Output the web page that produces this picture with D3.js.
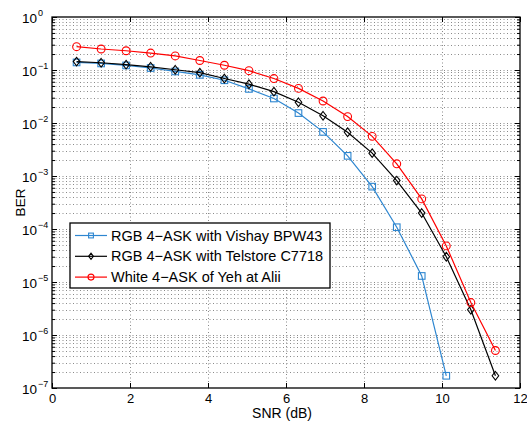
<!DOCTYPE html>
<html>
<head>
<meta charset="utf-8">
<script src="https://cdn.jsdelivr.net/npm/d3@7"></script>
<style>
  body { margin: 0; background: #fff; }
  text { font-family: "Liberation Sans", Arial, Helvetica, sans-serif; fill: #000; }
</style>
</head>
<body>
<div id="chart"></div>
<script>
// SNR values (dB) shared by all curves
var snr = [0.63, 1.26, 1.9, 2.53, 3.16, 3.79, 4.42, 5.05, 5.69, 6.32, 6.95, 7.58, 8.21, 8.84, 9.48, 10.11, 10.74, 11.37];

var berVishay = [0.139, 0.133, 0.122, 0.109, 0.094, 0.081, 0.064, 0.044, 0.029, 0.0154, 0.0068, 0.0024, 6.3e-4, 1.08e-4, 1.3e-5, 1.7e-7];
var berTelstore = [0.144, 0.137, 0.126, 0.115, 0.101, 0.089, 0.069, 0.054, 0.039, 0.0246, 0.0137, 0.0067, 0.0027, 8.2e-4, 2.0e-4, 3.0e-5, 3.0e-6, 1.7e-7];
var berWhite = [0.275, 0.249, 0.231, 0.209, 0.184, 0.151, 0.123, 0.097, 0.069, 0.045, 0.026, 0.0132, 0.0056, 0.0017, 3.7e-4, 4.8e-5, 4.1e-6, 5.1e-7];

var seriesNames = ["RGB 4\u2212ASK with Vishay BPW43", "RGB 4\u2212ASK with Telstore C7718", "White 4\u2212ASK of Yeh at Alii"];
var xTicks = [0, 2, 4, 6, 8, 10, 12];
var yExponents = [0, -1, -2, -3, -4, -5, -6, -7];

var width = 527, height = 421;
var margin = { top: 17, right: 7, bottom: 33, left: 52 };
var w = width - margin.left - margin.right;
var h = height - margin.top - margin.bottom;

var svg = d3.select("#chart").append("svg")
    .attr("width", width)
    .attr("height", height);

var g = svg.append("g")
    .attr("transform", "translate(" + margin.left + "," + margin.top + ")");

var x = d3.scaleLinear().domain([0, 12]).range([0, w]);
var y = d3.scaleLog().domain([1e-7, 1]).range([h, 0]);

// grid lines, dotted like matlab
var minorVals = [];
yExponents.slice(1).forEach(function(e) {
    for (var k = 1; k <= 9; k++) minorVals.push(k * Math.pow(10, e));
});
minorVals = minorVals.filter(function(v) { return v > 1e-7 && v < 1; });

var grid = g.append("g").attr("class", "grid")
    .attr("stroke", "#8a8a8a")
    .attr("stroke-width", 1)
    .attr("stroke-dasharray", "1,2.5");

grid.selectAll(".hgrid").data(minorVals).enter().append("line")
    .attr("x1", 0).attr("x2", w)
    .attr("y1", function(d) { return Math.round(y(d)) + 0.5; })
    .attr("y2", function(d) { return Math.round(y(d)) + 0.5; });

grid.selectAll(".vgrid").data(xTicks.slice(1, -1)).enter().append("line")
    .attr("y1", 0).attr("y2", h)
    .attr("x1", function(d) { return Math.round(x(d)) + 0.5; })
    .attr("x2", function(d) { return Math.round(x(d)) + 0.5; });

// axes with inward ticks
var axisBottom = d3.axisBottom(x).tickValues(xTicks).tickSize(-5).tickPadding(6).tickFormat(d3.format("d"));
var axisTop = d3.axisTop(x).tickValues(xTicks).tickSize(-5).tickFormat("");
var axisLeft = d3.axisLeft(y).tickValues(yExponents.map(function(e) { return Math.pow(10, e); })).tickSize(-5).tickFormat("");
var axisRight = d3.axisRight(y).tickValues(yExponents.map(function(e) { return Math.pow(10, e); })).tickSize(-5).tickFormat("");
var minorLeft = d3.axisLeft(y).tickValues(minorVals).tickSize(-3).tickFormat("");
var minorRight = d3.axisRight(y).tickValues(minorVals).tickSize(-3).tickFormat("");

var gx = g.append("g").attr("transform", "translate(0," + h + ")").call(axisBottom);
g.append("g").call(axisTop);
g.append("g").call(axisLeft);
g.append("g").attr("transform", "translate(" + w + ",0)").call(axisRight);
g.append("g").call(minorLeft);
g.append("g").attr("transform", "translate(" + w + ",0)").call(minorRight);

g.selectAll(".domain").remove();
g.selectAll(".tick line").attr("stroke", "#000");
gx.selectAll("text").style("font-size", "13px").style("font-family", "Liberation Sans, Arial, sans-serif");

// y tick labels as 10^e
var ylab = g.append("g").attr("class", "ylabels");
yExponents.forEach(function(e) {
    var t = ylab.append("text")
        .attr("x", -30)
        .attr("y", y(Math.pow(10, e)) + 6)
        .style("font-size", "13.5px");
    t.append("tspan").text("10");
    t.append("tspan").attr("dy", -7).attr("dx", 1).style("font-size", "9px")
        .text(e === 0 ? "0" : "\u2212" + Math.abs(e));
});

// frame
g.append("rect")
    .attr("width", w).attr("height", h)
    .attr("fill", "none").attr("stroke", "#000").attr("stroke-width", 1.3);

// axis labels
svg.append("text")
    .attr("x", 282)
    .attr("y", 418)
    .attr("text-anchor", "middle")
    .style("font-size", "14px")
    .text("SNR (dB)");

svg.append("text")
    .attr("transform", "translate(25," + (margin.top + h / 2) + ") rotate(-90)")
    .attr("text-anchor", "middle")
    .style("font-size", "13.5px")
    .text("BER");

// series
var series = [
    { name: seriesNames[0], values: berVishay, color: "#2d86d0", marker: "square" },
    { name: seriesNames[1], values: berTelstore, color: "#000000", marker: "diamond" },
    { name: seriesNames[2], values: berWhite, color: "#ff0000", marker: "circle" }
];

function drawMarker(sel, type, color, s) {
    if (type === "square") {
        sel.append("rect").attr("x", -s).attr("y", -s).attr("width", 2 * s).attr("height", 2 * s)
            .attr("fill", "none").attr("stroke", color).attr("stroke-width", 1.1);
    } else if (type === "diamond") {
        sel.append("path").attr("d", "M0," + (-s * 1.3) + "L" + s + ",0L0," + (s * 1.3) + "L" + (-s) + ",0Z")
            .attr("fill", "none").attr("stroke", color).attr("stroke-width", 1.1);
    } else {
        sel.append("circle").attr("r", s + 0.6)
            .attr("fill", "none").attr("stroke", color).attr("stroke-width", 1.1);
    }
}

var line = d3.line()
    .x(function(d) { return x(d[0]); })
    .y(function(d) { return y(d[1]); });

series.forEach(function(s) {
    var pts = s.values.map(function(v, i) { return [snr[i], v]; });
    var sg = g.append("g").attr("class", "series");
    sg.append("path")
        .datum(pts)
        .attr("d", line)
        .attr("fill", "none")
        .attr("stroke", s.color)
        .attr("stroke-width", 1.2);
    sg.selectAll(".m").data(pts).enter().append("g")
        .attr("transform", function(d) { return "translate(" + x(d[0]) + "," + y(d[1]) + ")"; })
        .each(function() { drawMarker(d3.select(this), s.marker, s.color, 3.3); });
});

// legend
var legend = g.append("g").attr("transform", "translate(" + (70 - margin.left) + "," + (223 - margin.top) + ")");
legend.append("rect")
    .attr("width", 260).attr("height", 65)
    .attr("fill", "#fff").attr("stroke", "#000").attr("stroke-width", 1.3);

series.forEach(function(s, i) {
    var row = legend.append("g").attr("transform", "translate(0," + (12.5 + i * 20.8) + ")");
    row.append("line").attr("x1", 5).attr("x2", 37).attr("y1", 0).attr("y2", 0)
        .attr("stroke", s.color).attr("stroke-width", 1.2);
    var mk = row.append("g").attr("transform", "translate(21,0)");
    drawMarker(mk, s.marker, s.color, 2.4);
    row.append("text").attr("x", 41).attr("y", 5)
        .style("font-size", "14.5px")
        .text(s.name);
});
</script>
</body>
</html>
